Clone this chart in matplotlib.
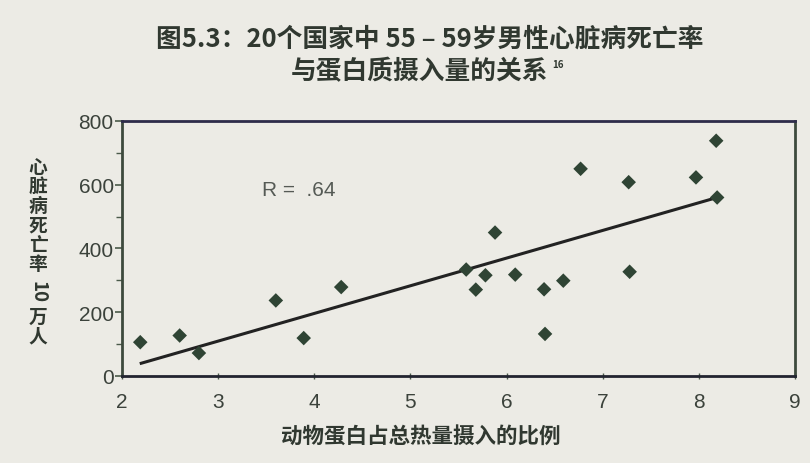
import matplotlib.pyplot as plt
from matplotlib.ticker import MultipleLocator

# Data (20 countries)
protein_pct = [2.19, 2.60, 2.80, 3.60, 3.89, 4.28, 5.58, 5.68, 5.78, 5.88,
               6.09, 6.39, 6.40, 6.59, 6.77, 7.27, 7.28, 7.97, 8.18, 8.19]
death_rate = [106, 127, 72, 237, 119, 279, 334, 271, 316, 450,
              318, 272, 132, 299, 650, 608, 327, 623, 738, 560]

# regression line end points
fit_x = [2.2, 8.19]
fit_y = [40, 560]

x_ticks = [2, 3, 4, 5, 6, 7, 8, 9]
y_ticks = [0, 200, 400, 600, 800]

title_1 = "图5.3：20个国家中 55 – 59岁男性心脏病死亡率"
title_2 = "与蛋白质摄入量的关系"
xlabel = "动物蛋白占总热量摄入的比例"
ylabel_chars = ["心", "脏", "病", "死", "亡", "率", "10", "万", "人"]
r_text = "R =  .64"

cjk = ["Noto Sans CJK SC", "DejaVu Sans"]
narrow = ["Liberation Sans Narrow", "Liberation Sans", "DejaVu Sans"]

paper = "#ecebe5"
txt = "#303830"

fig = plt.figure(figsize=(8.10, 4.64), dpi=100, facecolor=paper)
ax = fig.add_axes([0.1506, 0.1875, 0.8309, 0.5496])
ax.set_facecolor(paper)

ax.plot(fit_x, fit_y, color="#222222", lw=2.2, zorder=2)
ax.scatter(protein_pct, death_rate, marker="D", s=55, color="#2f4434",
           edgecolors="none", zorder=3)

ax.set_xlim(2, 9)
ax.set_ylim(0, 800)
ax.set_xticks(x_ticks)
ax.set_yticks(y_ticks)
ax.yaxis.set_minor_locator(MultipleLocator(100))
ax.tick_params(axis="y", which="major", direction="out", length=5, width=1.2,
               colors="#4a5a4a", labelcolor="#3b423b", labelsize=15, pad=1)
ax.tick_params(axis="y", which="minor", direction="out", length=4, width=1.0,
               colors="#4a5a4a")
ax.tick_params(axis="x", direction="inout", length=5, width=1.0,
               colors="#4a5a4a", labelcolor="#3b423b", labelsize=15, pad=9)
for lbl in ax.get_xticklabels() + ax.get_yticklabels():
    lbl.set_family(narrow)

for side in ["left", "right", "top", "bottom"]:
    ax.spines[side].set_linewidth(2.0)
ax.spines["left"].set_color("#3d4a3d")
ax.spines["right"].set_color("#3d4a3d")
ax.spines["top"].set_color("#2e2c4a")
ax.spines["bottom"].set_color("#222430")

ax.text(3.46, 586, r_text, fontsize=15, family=narrow, color="#555a55",
        va="center", ha="left")

# titles
fig.text(430 / 810, 1 - 39 / 464, title_1, ha="center", va="center",
         fontsize=18.5, fontweight="bold", family=cjk, color=txt)
fig.text(420 / 810, 1 - 72 / 464, title_2, ha="center", va="center",
         fontsize=18.5, fontweight="bold", family=cjk, color=txt)
fig.text(552 / 810, 1 - 65 / 464, "16", ha="left", va="center",
         fontsize=7, fontweight="bold", family=cjk, color=txt)

fig.text(421 / 810, 1 - 436 / 464, xlabel, ha="center", va="center",
         fontsize=15.5, fontweight="bold", family=cjk, color=txt)

# vertical stacked y label
y_pos = [168, 187, 206, 226, 246, 265, 292, 317, 337]
for ch, yp in zip(ylabel_chars, y_pos):
    rot = 270 if ch == "10" else 0
    fig.text(38 / 810, 1 - yp / 464, ch, ha="center", va="center",
             fontsize=13.5, fontweight="bold", family=cjk, color=txt,
             rotation=rot, rotation_mode="anchor")

fig.savefig("out.png", dpi=100, facecolor=paper)
